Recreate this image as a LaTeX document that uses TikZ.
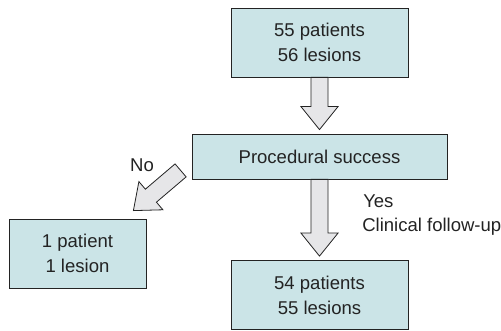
\documentclass[tikz,border=0pt]{standalone}
\usepackage{fontspec}
\setmainfont{Liberation Sans}
\usepackage{tikz}
\usetikzlibrary{calc}

\definecolor{boxfill}{RGB}{203,228,231}
\definecolor{arrowfill}{RGB}{230,230,232}
\definecolor{ink}{RGB}{35,35,35}

% fat hollow arrow from #1 to tip #2
\newcommand{\fatarrow}[2]{%
  \coordinate (hb) at ($(#2)!17.25pt!(#1)$);
  \draw[fat] ($(#1)!6.4pt!90:(#2)$) -- ($(hb)!6.4pt!-90:(#1)$)
    -- ($(hb)!13.9pt!-90:(#1)$) -- (#2)
    -- ($(hb)!13.9pt!90:(#1)$) -- ($(hb)!6.4pt!90:(#1)$)
    -- ($(#1)!6.4pt!-90:(#2)$) -- cycle;
}

\begin{document}
\begin{tikzpicture}[
  x=0.75pt, y=-0.75pt,
  box/.style={rectangle, draw=ink, line width=0.6pt, fill=boxfill, align=center,
    text=ink, font=\fontsize{13.9}{18.75}\selectfont, inner sep=0pt},
  fat/.style={draw=ink, line width=0.6pt, fill=arrowfill, line join=miter},
  lbl/.style={text=ink, font=\fontsize{13.9}{16}\selectfont, inner sep=0pt}
]
\useasboundingbox (0,0) rectangle (501,331);

% Boxes
\node[box, minimum width=132.75pt, minimum height=51.75pt] (start) at (319.5,42.5) {55 patients\\56 lesions};
\node[box, minimum width=191.25pt, minimum height=33.75pt] (success) at (319.5,156.5) {Procedural success};
\node[box, minimum width=102.75pt, minimum height=51.75pt] (fail) at (77.5,253.5) {1 patient\\1 lesion};
\node[box, minimum width=132.75pt, minimum height=51.75pt] (followup) at (319.5,295) {54 patients\\55 lesions};

% Arrow ends
\coordinate (a1s) at (start.south);
\coordinate (a1e) at ($(success.north)+(0,-4)$);
\coordinate (a2s) at (success.south);
\coordinate (a2e) at ($(followup.north)+(0,-4)$);
\coordinate (a3s) at ($(success.south west)+(-11,-9)$);
\coordinate (a3e) at ($(fail.north east)+(-13,-8)$);

% Arrows
\fatarrow{a1s}{a1e}
\fatarrow{a2s}{a2e}
\fatarrow{a3s}{a3e}

% Labels
\node[lbl] (no) at (142,165) {No};
\node[lbl, anchor=west] (yes) at (363,201) {Yes};
\node[lbl, anchor=west] (clin) at (362,227) {Clinical follow-up};

\end{tikzpicture}
\end{document}
